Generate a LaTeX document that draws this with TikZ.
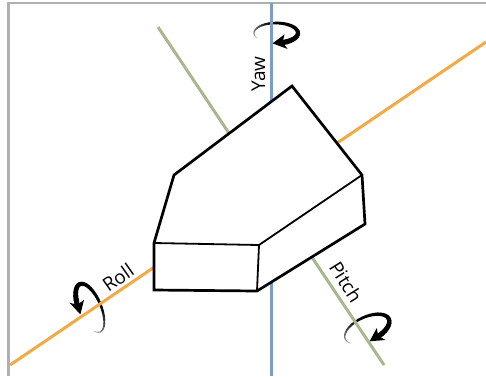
\documentclass[tikz,border=0pt]{standalone}
\usepackage{fontspec}
\usetikzlibrary{calc}
\setmainfont{Open Sans}
\definecolor{yawblue}{HTML}{7C9CC4}
\definecolor{rollorange}{HTML}{F4A947}
\definecolor{pitchgreen}{HTML}{A8B88E}
\definecolor{framegray}{HTML}{B0B0B0}
\tikzset{
  axisline/.style={line width=3pt},
  bodyedge/.style={draw=black,line width=2.7pt,line join=miter},
  inneredge/.style={draw=black,line width=1.8pt},
  axislabel/.style={font=\fontsize{19}{21}\selectfont,inner sep=0pt},
}
% #1 centre, #2 rotation, #3 rx, #4 ry (negative ry mirrors the sense of turn)
\newcommand{\spinarrow}[4]{%
  \begin{scope}[shift={#1},rotate=#2]
    \pgfmathsetmacro{\sg}{(#4)/abs(#4)}
    \foreach \t [remember=\t as \p (initially 150)] in {160,170,...,430}{%
      \pgfmathsetmacro{\fr}{(\t-150)/280}
      \pgfmathsetmacro{\shade}{min(100,20+\fr*190)}
      \draw[line cap=round,color=black!\shade!white,line width={0.6pt+4.6pt*\fr}]
        ({#3*cos(\p)},{#4*sin(\p)}) -- ({#3*cos(\t)},{#4*sin(\t)});
    }
    \coordinate (tipend) at ({#3*cos(430)},{#4*sin(430)});
    \fill[black] ($(tipend)+(-11,{1*\sg})$) -- ($(tipend)+(1,{-8*\sg})$)
      -- ($(tipend)+(-1,{0*\sg})$) -- ($(tipend)+(4,{6.5*\sg})$) -- cycle;
  \end{scope}}
\begin{document}
\begin{tikzpicture}[x=1pt,y=-1pt]
\useasboundingbox (0,0) rectangle (486,376);
% frame
\coordinate (frameA) at (8.5,376);
\coordinate (frameB) at (8.5,3);
\coordinate (frameC) at (486,3);
\draw[framegray,line width=2.4pt] (frameA) -- (frameB) -- (frameC);
% rotation arrows
\spinarrow{(276,33)}{0}{22}{10}
\spinarrow{(367,329)}{25}{24}{12}
\spinarrow{(90,308)}{113}{26}{-11}
% axes
\coordinate (yawT) at (271.4,3);
\coordinate (yawB) at (271.4,376);
\coordinate (rollA) at (10,365);
\coordinate (rollB) at (486,42);
\coordinate (pitchA) at (158,27);
\coordinate (pitchB) at (384,365);
\draw[axisline,yawblue] (yawT) -- (yawB);
\draw[axisline,rollorange] (rollA) -- (rollB);
\draw[axisline,pitchgreen] (pitchA) -- (pitchB);
% body
\coordinate (b1) at (154,243);
\coordinate (b2) at (174,175);
\coordinate (b3) at (292,86);
\coordinate (b4) at (362,175);
\coordinate (b5) at (365,224);
\coordinate (b6) at (257,291);
\coordinate (b7) at (154,290);
\coordinate (b8) at (259,245);
\draw[bodyedge,fill=white] (b1) -- (b2) -- (b3) -- (b4) -- (b5) -- (b6) -- (b7) -- cycle;
\draw[inneredge] (b1) -- (b8) -- (b4);
\draw[inneredge] (b8) -- (b6);
% labels
\node[axislabel,rotate=90] (yawlabel) at (258.5,74) {Yaw};
\node[axislabel,rotate=35] (rolllabel) at (118,277.5) {Roll};
\node[axislabel,rotate=-58] (pitchlabel) at (346,282) {Pitch};
\end{tikzpicture}
\end{document}
